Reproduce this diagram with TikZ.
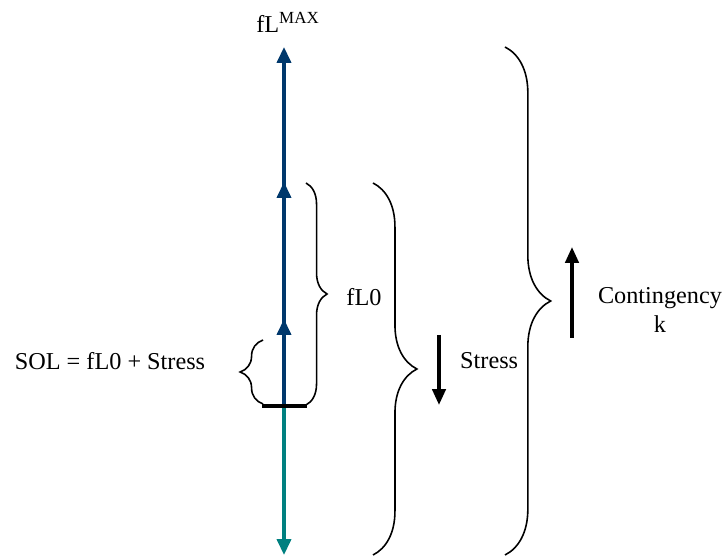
\documentclass[tikz,border=0pt]{standalone}
\usepackage{fontspec}
\setmainfont{Liberation Serif}
\usepackage{tikz}
\usetikzlibrary{arrows.meta,decorations.pathreplacing,positioning}
\definecolor{lineblue}{RGB}{0,56,108}
\definecolor{lineteal}{RGB}{0,128,128}
\tikzset{
  axisline/.style={line width=1.8pt, -{Triangle[width=8pt,length=9pt]}},
  trend/.style={line width=2pt, -{Triangle[width=7.5pt,length=9pt]}},
  curly/.style={line width=0.9pt, decorate, decoration={brace, amplitude=#1}},
  lbl/.style={font=\fontsize{13.8}{16}\selectfont}
}

\begin{document}
\begin{tikzpicture}[x=0.02cm, y=-0.02cm]
\useasboundingbox (0,0) rectangle (725,557);
\coordinate (base) at (284,406);
\coordinate (lvlA) at (284,319);
\coordinate (lvlB) at (284,182);
\coordinate (top) at (284,47);
\coordinate (bottom) at (284,555);
\draw[axisline, lineblue] (base) -- (top);%fL max
\draw[axisline, lineblue] (base) -- (lvlA);%SOL
\draw[axisline, lineblue] (base) -- (lvlB);
\draw[axisline, lineteal] (base) -- (bottom);
\draw[line width=2.6pt] (262,406) -- (307,406);%fL0 level
\node[lbl] (fLmax) at (288,22) {fL\textsuperscript{MAX}};
% braces
\draw[curly=13pt] (263,404) -- (263,340);
\draw[curly=12pt] (306,183) -- (306,405);
\draw[curly=25pt] (373,183) -- (373,555);
\draw[curly=26pt] (505,47) -- (505,555);
\node[lbl] (fL0) at (364,297) {fL0};
\node[lbl] (sol) at (110,361) {SOL = fL0 + Stress};
% stress and contingency
\coordinate (sA) at (439,335);
\coordinate (sB) at (439,405);
\draw[trend] (sA) -- (sB);
\node[lbl, anchor=west] (stress) at (454,361) {Stress};
\coordinate (cA) at (572,338);
\coordinate (cB) at (572,247);
\draw[trend] (cA) -- (cB);
\node[lbl, align=center] (cont) at (660,310) {Contingency\\k};
\end{tikzpicture}
\end{document}
